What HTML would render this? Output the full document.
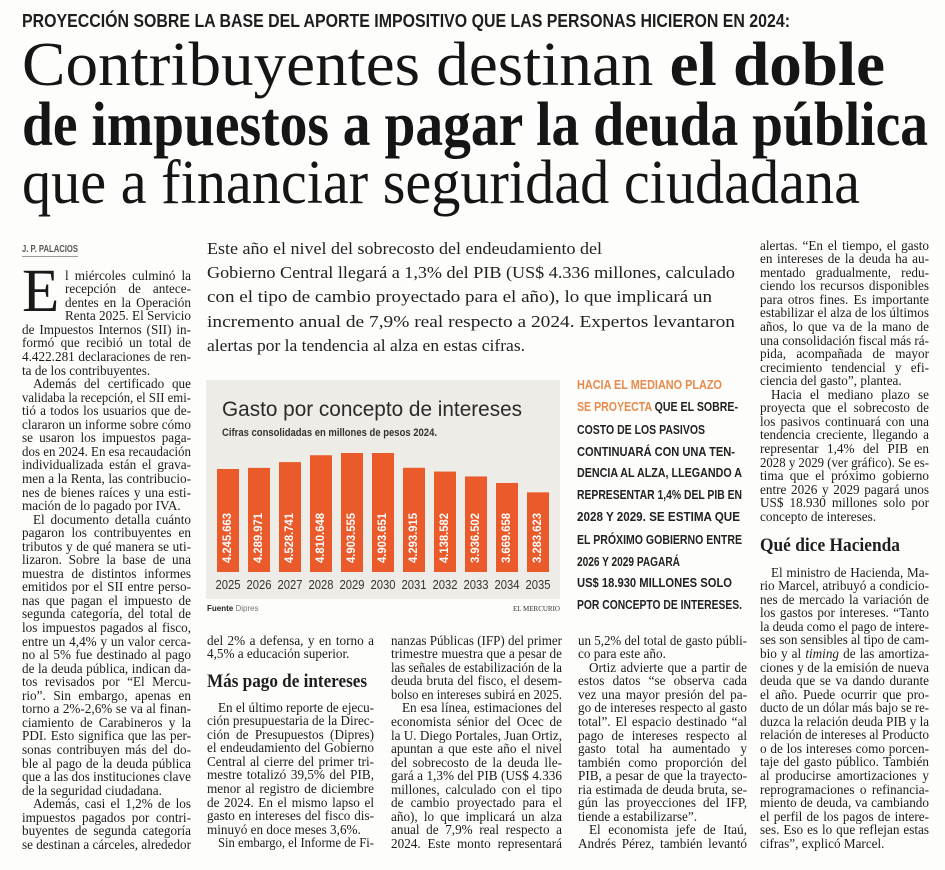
<!DOCTYPE html>
<html><head><meta charset="utf-8">
<style>
html,body{margin:0;padding:0}
body{width:945px;height:870px;position:relative;overflow:hidden;background:#fdfdfc;color:#1e1e1e;font-family:"Liberation Serif",serif}
.abs{position:absolute;white-space:nowrap;transform-origin:0 0}
.ln{position:absolute;white-space:nowrap;font-size:13.2px;line-height:13.55px;transform-origin:0 0;color:#1c1c1c}
.kick{font-family:"Liberation Sans",sans-serif;font-weight:bold;font-size:18px;line-height:18px}
.hl{font-size:62px;line-height:62px;color:#151515}
.lead{font-size:16.5px;line-height:18px;color:#222}
.side{font-family:"Liberation Sans",sans-serif;font-weight:bold;font-size:13px;line-height:14px;color:#222}
.or{color:#e88a4a}
.sub{font-weight:bold;font-size:19px;line-height:20px}
</style></head>
<body>

<div class="abs kick" data-w="768" style="left:22px;top:12px">PROYECCIÓN SOBRE LA BASE DEL APORTE IMPOSITIVO QUE LAS PERSONAS HICIERON EN 2024:</div>

<div class="abs hl" data-w="863" style="left:22px;top:34px">Contribuyentes destinan <b>el doble</b></div>
<div class="abs hl" data-w="906" style="left:22px;top:94px;font-weight:bold">de impuestos a pagar la deuda pública</div>
<div class="abs hl" data-w="838" style="left:22px;top:152px">que a financiar seguridad ciudadana</div>

<div class="abs" data-w="56" style="left:22px;top:244px;font-family:'Liberation Sans',sans-serif;font-weight:bold;font-size:10px;line-height:11px;color:#555;border-bottom:1px solid #999;padding-bottom:1px">J. P. PALACIOS</div>

<div class="abs" style="left:22px;top:261px;font-size:61px;line-height:61px;color:#1a1a1a">E</div>

<div class="abs lead" data-w="395" style="left:207px;top:240px">Este año el nivel del sobrecosto del endeudamiento del</div>
<div class="abs lead" data-w="528" style="left:207px;top:264px">Gobierno Central llegará a 1,3% del PIB (US$ 4.336 millones, calculado</div>
<div class="abs lead" data-w="505" style="left:207px;top:288px">con el tipo de cambio proyectado para el año), lo que implicará un</div>
<div class="abs lead" data-w="528" style="left:207px;top:313px">incremento anual de 7,9% real respecto a 2024. Expertos levantaron</div>
<div class="abs lead" data-w="318" style="left:207px;top:337px">alertas por la tendencia al alza en estas cifras.</div>

<div class="abs side" data-w="145" style="left:577px;top:378px"><span class="or">HACIA EL MEDIANO PLAZO</span></div>
<div class="abs side" data-w="161" style="left:577px;top:400px"><span class="or">SE PROYECTA</span> QUE EL SOBRE-</div>
<div class="abs side" data-w="128" style="left:577px;top:423px">COSTO DE LOS PASIVOS</div>
<div class="abs side" data-w="158" style="left:577px;top:445px">CONTINUARÁ CON UNA TEN-</div>
<div class="abs side" data-w="165" style="left:577px;top:466px">DENCIA AL ALZA, LLEGANDO A</div>
<div class="abs side" data-w="165" style="left:577px;top:488px">REPRESENTAR 1,4% DEL PIB EN</div>
<div class="abs side" data-w="163" style="left:577px;top:510px">2028 Y 2029. SE ESTIMA QUE</div>
<div class="abs side" data-w="165" style="left:577px;top:533px">EL PRÓXIMO GOBIERNO ENTRE</div>
<div class="abs side" data-w="103" style="left:577px;top:555px">2026 Y 2029 PAGARÁ</div>
<div class="abs side" data-w="155" style="left:577px;top:576px">US$ 18.930 MILLONES SOLO</div>
<div class="abs side" data-w="165" style="left:577px;top:598px">POR CONCEPTO DE INTERESES.</div>

<div class="abs sub" data-w="160" style="left:207px;top:672px">Más pago de intereses</div>
<div class="abs sub" data-w="140" style="left:760px;top:536px">Qué dice Hacienda</div>

<svg id="chart" width="945" height="870" style="position:absolute;left:0;top:0">
  <rect x="206" y="380" width="354" height="219" fill="#eeece6"/>
  <text x="222" y="416" font-family="Liberation Sans, sans-serif" font-size="21" fill="#2a2a2a" textLength="300" lengthAdjust="spacingAndGlyphs">Gasto por concepto de intereses</text>
  <text x="222" y="436" font-family="Liberation Sans, sans-serif" font-size="11" font-weight="bold" fill="#333" textLength="215" lengthAdjust="spacingAndGlyphs">Cifras consolidadas en millones de pesos 2024.</text>
  <g id="bars"></g>
  <text x="207" y="611" font-family="Liberation Sans, sans-serif" font-size="8" fill="#222"><tspan font-weight="bold">Fuente</tspan><tspan fill="#777"> Dipres</tspan></text>
  <text x="560" y="611" text-anchor="end" font-family="Liberation Serif, serif" font-size="7" fill="#333">EL MERCURIO</text>
</svg>

<script>
const years = ["2025","2026","2027","2028","2029","2030","2031","2032","2033","2034","2035"];
const values = [4245663,4289971,4528741,4810648,4903555,4903651,4293915,4138582,3936502,3669658,3283623];
const valueLabels = ["4.245.663","4.289.971","4.528.741","4.810.648","4.903.555","4.903.651","4.293.915","4.138.582","3.936.502","3.669.658","3.283.623"];

const NS = "http://www.w3.org/2000/svg";
const x0 = 217, pitch = 31, bw = 22, baseY = 572, maxH = 119, vmax = 4903555;
function xPos(i){ return x0 + i*pitch; }
function yPos(v){ return baseY - v/vmax*maxH; }
const g = document.getElementById("bars");
values.forEach(function(v,i){
  const r = document.createElementNS(NS,"rect");
  r.setAttribute("x", xPos(i));
  r.setAttribute("y", yPos(v));
  r.setAttribute("width", bw);
  r.setAttribute("height", baseY - yPos(v));
  r.setAttribute("fill", "#eb5a2b");
  
  
  g.appendChild(r);
  const t = document.createElementNS(NS,"text");
  const cx = xPos(i) + bw/2, cy = 538;
  t.setAttribute("x", cx); t.setAttribute("y", cy);
  t.setAttribute("transform", "rotate(-90 " + cx + " " + cy + ")");
  t.setAttribute("text-anchor", "middle");
  t.setAttribute("dominant-baseline", "central");
  t.setAttribute("font-family", "Liberation Sans, sans-serif");
  t.setAttribute("font-size", "11.5");
  t.setAttribute("font-weight", "bold");
  t.setAttribute("fill", "#fff");
  t.setAttribute("textLength", "50");
  t.setAttribute("lengthAdjust", "spacingAndGlyphs");
  t.textContent = valueLabels[i];
  
  
  g.appendChild(t);
  const y = document.createElementNS(NS,"text");
  y.setAttribute("x", cx); y.setAttribute("y", 589);
  y.setAttribute("text-anchor", "middle");
  y.setAttribute("font-family", "Liberation Sans, sans-serif");
  y.setAttribute("font-size", "12.5");
  y.setAttribute("fill", "#333");
  y.setAttribute("textLength", "25");
  y.setAttribute("lengthAdjust", "spacingAndGlyphs");
  y.textContent = years[i];
  
  
  g.appendChild(y);
});

const cols = [
 {x:22,w:169,base:280,name:"column-1",lines:[
  "@l miércoles culminó la","@recepción de antece-","@dentes en la Operación","@Renta 2025. El Servicio",
  "de Impuestos Internos (SII) in-","formó que recibió un total de","4.422.281 declaraciones de ren-","ta de los contribuyentes.|",
  "¶Además del certificado que","validaba la recepción, el SII emi-","tió a todos los usuarios que de-","clararon un informe sobre cómo",
  "se usaron los impuestos paga-","dos en 2024. En esa recaudación","individualizada están el grava-","men a la Renta, las contribucio-",
  "nes de bienes raíces y una esti-","mación de lo pagado por IVA.|","¶El documento detalla cuánto","pagaron los contribuyentes en",
  "tributos y de qué manera se uti-","lizaron. Sobre la base de una","muestra de distintos informes","emitidos por el SII entre perso-",
  "nas que pagan el impuesto de","segunda categoría, del total de","los impuestos pagados al fisco,","entre un 4,4% y un valor cerca-",
  "no al 5% fue destinado al pago","de la deuda pública, indican da-","tos revisados por “El Mercu-","rio”. Sin embargo, apenas en",
  "torno a 2%-2,6% se va al finan-","ciamiento de Carabineros y la","PDI. Esto significa que las per-","sonas contribuyen más del do-",
  "ble al pago de la deuda pública","que a las dos instituciones clave","de la seguridad ciudadana.|","¶Además, casi el 1,2% de los",
  "impuestos pagados por contri-","buyentes de segunda categoría","se destinan a cárceles, alrededor"]},
 {x:207,w:167,base:645,name:"column-2a",lines:["del 2% a defensa, y en torno a","4,5% a educación superior.|"]},
 {x:207,w:167,base:712,name:"column-2b",lines:[
  "¶En el último reporte de ejecu-","ción presupuestaria de la Direc-","ción de Presupuestos (Dipres)","el endeudamiento del Gobierno",
  "Central al cierre del primer tri-","mestre totalizó 39,5% del PIB,","menor al registro de diciembre","de 2024. En el mismo lapso el",
  "gasto en intereses del fisco dis-","minuyó en doce meses 3,6%.|","¶Sin embargo, el Informe de Fi-"]},
 {x:391,w:171,base:645,name:"column-3",lines:[
  "nanzas Públicas (IFP) del primer","trimestre muestra que a pesar de","las señales de estabilización de la","deuda bruta del fisco, el desem-",
  "bolso en intereses subirá en 2025.|","¶En esa línea, estimaciones del","economista sénior del Ocec de","la U. Diego Portales, Juan Ortiz,",
  "apuntan a que este año el nivel","del sobrecosto de la deuda lle-","gará a 1,3% del PIB (US$ 4.336","millones, calculado con el tipo",
  "de cambio proyectado para el","año), lo que implicará un alza","anual de 7,9% real respecto a","2024. Este monto representará"]},
 {x:578,w:169,base:645,name:"column-4",lines:[
  "un 5,2% del total de gasto públi-","co para este año.|","¶Ortiz advierte que a partir de","estos datos “se observa cada",
  "vez una mayor presión del pa-","go de intereses respecto al gasto","total”. El espacio destinado “al","pago de intereses respecto al",
  "gasto total ha aumentado y","también como proporción del","PIB, a pesar de que la trayecto-","ria estimada de deuda bruta, se-",
  "gún las proyecciones del IFP,","tiende a estabilizarse”.|","¶El economista jefe de Itaú,","Andrés Pérez, también levantó"]},
 {x:760,w:169,base:250,name:"column-5a",lines:[
  "alertas. “En el tiempo, el gasto","en intereses de la deuda ha au-","mentado gradualmente, redu-","ciendo los recursos disponibles",
  "para otros fines. Es importante","estabilizar el alza de los últimos","años, lo que va de la mano de","una consolidación fiscal más rá-",
  "pida, acompañada de mayor","crecimiento tendencial y efi-","ciencia del gasto”, plantea.|","¶Hacia el mediano plazo se",
  "proyecta que el sobrecosto de","los pasivos continuará con una","tendencia creciente, llegando a","representar 1,4% del PIB en",
  "2028 y 2029 (ver gráfico). Se es-","tima que el próximo gobierno","entre 2026 y 2029 pagará unos","US$ 18.930 millones solo por","concepto de intereses.|"]},
 {x:760,w:169,base:577,name:"column-5b",lines:[
  "¶El ministro de Hacienda, Ma-","rio Marcel, atribuyó a condicio-","nes de mercado la variación de","los gastos por intereses. “Tanto",
  "la deuda como el pago de intere-","ses son sensibles al tipo de cam-","bio y al <i>timing</i> de las amortiza-","ciones y de la emisión de nueva",
  "deuda que se va dando durante","el año. Puede ocurrir que pro-","ducto de un dólar más bajo se re-","duzca la relación deuda PIB y la",
  "relación de intereses al Producto","o de los intereses como porcen-","taje del gasto público. También","al producirse amortizaciones y",
  "reprogramaciones o refinancia-","miento de deuda, va cambiando","el perfil de los pagos de intere-","ses. Eso es lo que reflejan estas","cifras”, explicó Marcel.|"]}
];
const LH = 13.55;
const made = [];
cols.forEach(function(c){
  c.lines.forEach(function(s,i){
    let indent = 0, end = false, left = c.x, w = c.w;
    if (s[0] === "@") { s = s.slice(1); left = 65; w = c.x + c.w - 65; }
    if (s[0] === "¶") { s = s.slice(1); indent = 11; }
    if (s[s.length-1] === "|") { s = s.slice(0,-1); end = true; }
    const d = document.createElement("div");
    d.className = "ln";
    d.style.left = (left + indent) + "px";
    d.style.top = (c.base + i*LH - 11.3) + "px";
    d.innerHTML = s;
    
    
    document.body.appendChild(d);
    made.push({d:d, w:w - indent, end:end, s:s});
  });
});
made.forEach(function(m){
  const nat = m.d.getBoundingClientRect().width;
  if (nat > m.w) {
    m.d.style.transform = "scaleX(" + (m.w/nat) + ")";
  } else if (!m.end) {
    const gaps = (m.d.textContent.match(/ /g) || []).length;
    if (gaps > 0) m.d.style.wordSpacing = ((m.w - nat)/gaps) + "px";
  }
});
document.querySelectorAll("[data-w]").forEach(function(el){
  const nat = el.getBoundingClientRect().width;
  const w = parseFloat(el.getAttribute("data-w"));
  if (nat > 0) el.style.transform = "scaleX(" + (w/nat) + ")";
});
</script>
</body></html>
